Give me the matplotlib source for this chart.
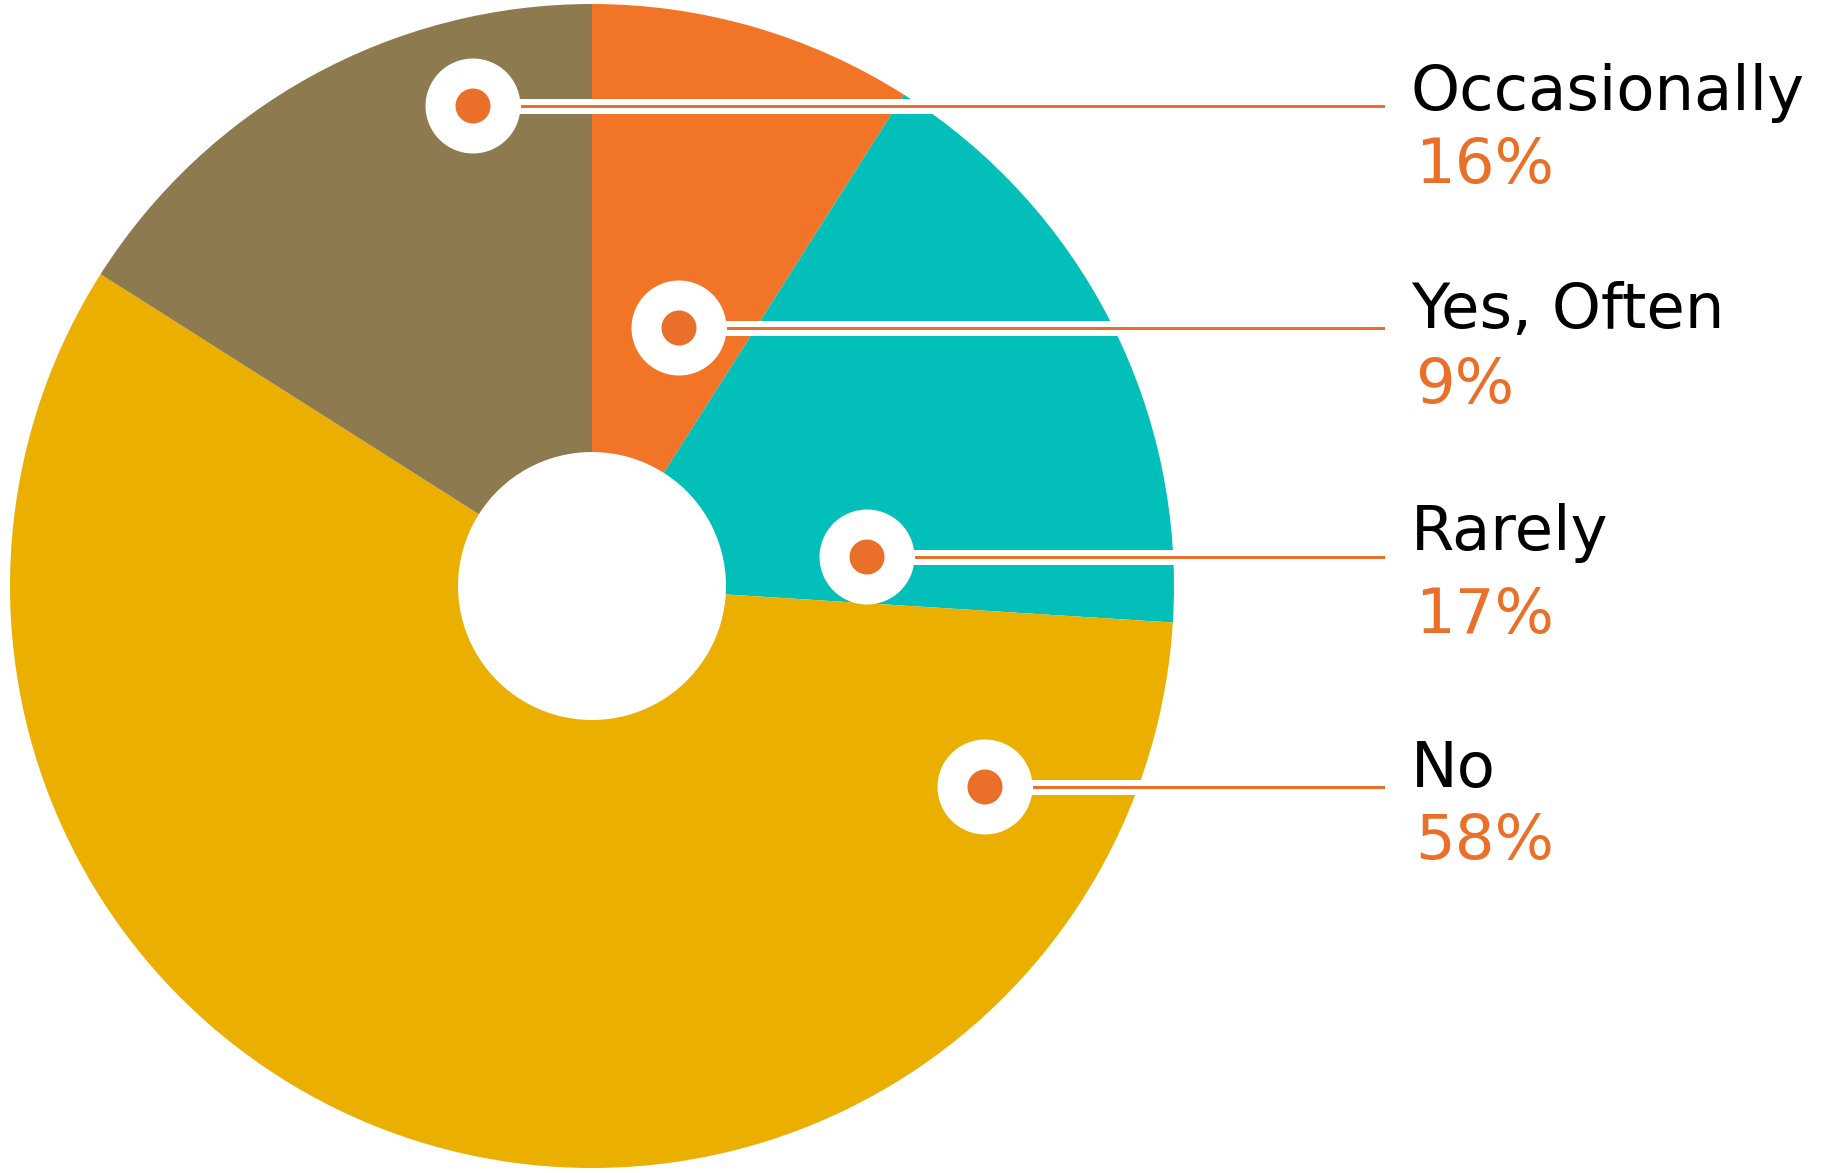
import matplotlib
matplotlib.use("Agg")
import matplotlib.pyplot as plt
from matplotlib.patches import Circle

# Survey answers, clockwise from 12 o'clock
categories = ["Yes, Often", "Rarely", "No", "Occasionally"]
shares = [9, 17, 58, 16]
pct_labels = ["9%", "17%", "58%", "16%"]

slice_colors = ["#F27527", "#02BFB9", "#EBAF00", "#8D7A4F"]
accent = "#EA6F28"

W, H = 1828, 1173
fig = plt.figure(figsize=(W / 100, H / 100), dpi=100)
ax = fig.add_axes([0, 0, 1, 1])

# donut geometry (pixel units, y measured from the bottom)
cx, cy, R, r_hole = 592, H - 586, 582, 134

ax.pie(shares, colors=slice_colors, startangle=90, counterclock=False,
       center=(cx, cy), radius=R,
       wedgeprops=dict(width=R - r_hole, linewidth=0))

# callout pins: marker centre (x, y from top) and text baselines
pin_x = [679, 867, 985, 473]
pin_y = [328, 557, 787, 106]
name_base = [328, 550, 787, 110]
pct_base = [403, 633, 859, 183]
line_end = 1385
text_x = 1411
pin_r, dot_r = 47.5, 17.5

for i in range(len(categories)):
    x, y = pin_x[i], H - pin_y[i]
    # white band with a thin orange rule inside
    ax.fill_between([x, line_end], y - 7.5, y + 7.5, color="white", lw=0, zorder=3)
    ax.add_patch(Circle((x, y), pin_r, color="white", lw=0, zorder=4))
    ax.fill_between([x + pin_r, line_end], y - 1.5, y + 1.5, color=accent, lw=0, zorder=5)
    ax.add_patch(Circle((x, y), dot_r, color=accent, lw=0, zorder=6))
    ax.text(text_x, H - name_base[i], categories[i], fontsize=45,
            family="DejaVu Sans", color="black", va="baseline", ha="left")
    ax.text(text_x + 4, H - pct_base[i], pct_labels[i], fontsize=45,
            family="DejaVu Sans", color=accent, va="baseline", ha="left")

ax.set_aspect("auto")
ax.set_xlim(0, W)
ax.set_ylim(0, H)
ax.axis("off")

fig.savefig("out.png", dpi=100, facecolor="white")
